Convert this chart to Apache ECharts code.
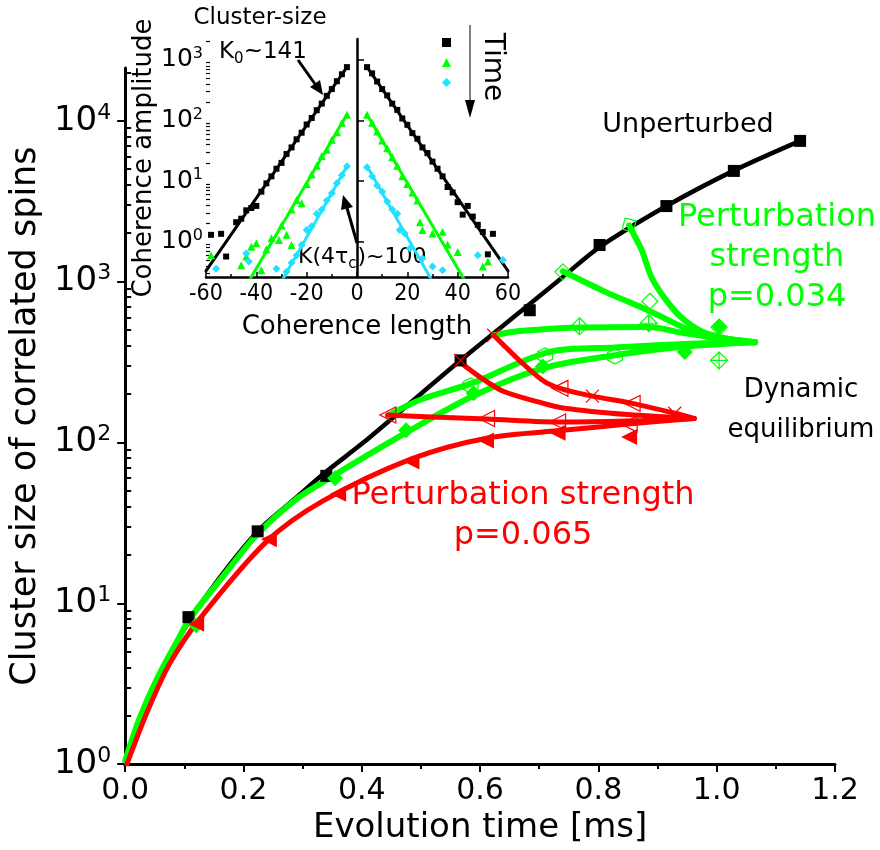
<!DOCTYPE html>
<html><head><meta charset="utf-8">
<script src="https://cdn.jsdelivr.net/npm/echarts@6/dist/echarts.min.js"></script>
<style>html,body{margin:0;padding:0;background:#fff}#c{width:880px;height:850px}</style>
</head><body><div id="c"></div>
<script>
// ---------------- Main chart data: [evolution time (ms), cluster size] ----------------
const xTicksMain = [0, 0.2, 0.4, 0.6, 0.8, 1.0, 1.2];
const yTicksMain = [1, 10, 100, 1000, 10000];

// Unperturbed (black)
const unpFit = [[0,1],[0.025,1.9],[0.054,3.4],[0.09,6.0],[0.14,11.5],[0.224,28],[0.288,45],[0.338,65],[0.40,98],[0.455,145],[0.567,324],[0.684,725],[0.74,1070],[0.802,1640],[0.915,2950],[1.029,4900],[1.141,7500]];
const unpPts = [[0.107,8.2],[0.224,28],[0.34,62],[0.567,324],[0.684,664],[0.802,1690],[0.915,2950],[1.029,4880],[1.141,7500]];

// p = 0.034 (green)
const gaFit = [[0,1.05],[0.025,1.95],[0.054,3.4],[0.09,6.0],[0.109,8.0],[0.166,14.8],[0.221,26.3],[0.288,44],[0.355,63],[0.475,115],[0.589,195],[0.706,289],[0.82,345],[0.946,395],[1.065,420]];
const gaPts = [[0.12,7.3],[0.355,60],[0.475,119],[0.589,202],[0.706,297],[0.946,365],[1.004,528]];
const gbFit = [[0.444,147],[0.50,185],[0.584,232],[0.723,370],[0.828,390],[0.946,410],[1.065,420]];
const gbPts = [[0.584,226],[0.71,348],[0.828,343]];
const gcFit = [[0.623,464],[0.66,490],[0.706,505],[0.768,518],[0.885,522],[0.946,478],[1.065,420]];
const gcPts = [[0.768,528],[0.885,551],[1.004,324]];
const gdFit = [[0.74,1160],[0.81,870],[0.887,655],[0.974,464],[1.02,435],[1.065,420]];
const gdPts = [[0.74,1150],[0.887,755],[1.004,520]];
const geFit = [[0.852,2240],[0.862,1900],[0.874,1550],[0.89,1060],[0.912,790],[0.94,600],[0.974,492],[1.02,440],[1.065,420]];
const gePts = [[0.852,2250]];

// p = 0.065 (red)
const raFit = [[0.003,1],[0.037,2.1],[0.075,4.2],[0.126,8.0],[0.238,24],[0.333,43],[0.484,79],[0.615,107],[0.74,119],[0.85,130],[0.962,141]];
const raPts = [[0.12,7.45],[0.243,25],[0.36,48],[0.484,76],[0.61,103],[0.731,115],[0.852,108]];
const rbFit = [[0.444,148],[0.52,144],[0.611,140],[0.74,134],[0.85,136],[0.962,141]];
const rbPts = [[0.444,148],[0.611,141],[0.731,134],[0.852,130]];
const rcFit = [[0.564,320],[0.60,255],[0.639,208],[0.70,178],[0.74,164],[0.85,149],[0.962,141]];
const rcPts = [[0.567,324]];
const rdFit = [[0.623,464],[0.668,320],[0.706,243],[0.735,217],[0.79,194],[0.857,175],[0.929,152],[0.962,141]];
const rdXPts = [[0.623,464],[0.79,194],[0.929,152]];
const rdTriPts = [[0.735,217],[0.857,175]];

// ---------------- Inset data: [coherence length, coherence amplitude] ----------------
const xTicksInset = [-60, -40, -20, 0, 20, 40, 60];
const yTicksInset = [1, 10, 100, 1000];
const blackL = [[-58,1.3],[-54,1.35],[-52,0.57],[-48,2.1],[-46,2.4],[-44,3.3],[-42,3.6],[-40,3.9],[-38,6.7],[-36,9.2],[-34,12],[-32,16],[-30,20],[-28,28],[-26,36],[-24,49],[-22,63],[-20,86],[-18,110],[-16,148],[-14,190],[-12,255],[-10,330],[-8,445],[-6,580],[-4,760]];
const blackR = [[4,760],[6,600],[8,440],[10,330],[12,260],[14,190],[16,150],[18,108],[20,85],[22,62],[24,50],[26,36],[28,29],[30,21],[32,16],[34,12],[36,8.0],[38,6.5],[40,4.5],[42,2.8],[44,3.9],[46,2.6],[48,1.9],[50,1.45],[52,0.62],[54,1.35]];
const greenL = [[-58,0.6],[-46,0.41],[-44,0.57],[-42,0.83],[-40,0.94],[-38,0.34],[-36,0.75],[-34,1.14],[-31,1.07],[-30,1.85],[-28,1.3],[-26,0.88],[-26,3.4],[-24,4.9],[-22,4.3],[-20,9.0],[-18,13],[-16,18],[-14,26],[-12,33],[-10,48],[-8,64],[-6,92],[-4,125]];
const greenR = [[4,125],[6,92],[8,66],[10,47],[12,35],[14,25],[16,18],[18,12],[20,9],[22,6.5],[24,4.8],[25,2.1],[26,1.56],[30,1.37],[34,1.46],[36,0.9],[40,0.68],[50,0.39],[52,0.47]];
const cyanL = [[-56,0.36],[-44,0.64],[-43,0.47],[-32,0.36],[-28,0.32],[-26,0.45],[-24,0.6],[-22,0.88],[-20,1.56],[-18,1.8],[-16,2.9],[-14,3.4],[-12,4.8],[-10,6.3],[-8,9.2],[-6,12.5],[-4,17.6]];
const cyanR = [[4,17],[6,12],[8,8.5],[10,6.7],[12,4.6],[14,3.4],[16,2.9],[17,1.56],[19,1.37],[21,0.78],[26,0.53],[30,0.39],[34,0.34],[48,0.6],[58,0.5]];
const blackFitL = [[-60,0.33],[-4,760]], blackFitR = [[4,760],[60,0.33]];
const greenFitL = [[-44,0.19],[-4,125]], greenFitR = [[4,125],[44,0.19]];
const cyanFitL = [[-30,0.22],[-4,17.6]], cyanFitR = [[4,17.6],[30,0.22]];

// ---------------- styling ----------------
const BLK = '#000000', GRN = '#00ff00', RED = '#ff0000', CYN = '#22e0ff';
const F = 'DejaVu Sans';
const FC = 'DejaVu Sans Condensed';

function minorLog(lo, hi) {
  const out = [];
  for (let d = -1; d <= 4; d++) {
    for (let k = 2; k <= 9; k++) {
      const v = k * Math.pow(10, d);
      if (v >= lo && v <= hi) out.push(+v.toPrecision(3));
    }
  }
  return out;
}
const MAIN_YMAX = 21300, INS_YMIN = 0.262, INS_YMAX = 2213;

function lineS(data, color, width, xi, yi, smooth) {
  return { type: 'line', data, xAxisIndex: xi, yAxisIndex: yi, smooth: smooth === undefined ? 0.3 : smooth,
    showSymbol: false, symbol: 'none', silent: true, animation: false,
    lineStyle: { color, width, cap: 'round', join: 'round' }, z: 2 };
}
function scatS(name, data, symbol, size, style, rotate, xi, yi) {
  return { type: 'scatter', name, data, xAxisIndex: xi, yAxisIndex: yi, symbol, symbolSize: size,
    symbolRotate: rotate || 0, itemStyle: Object.assign({ opacity: 1 }, style), silent: true, animation: false, z: 3 };
}
const HEX = 'path://M0,-10L8.66,-5L8.66,5L0,10L-8.66,5L-8.66,-5Z';
const DCROSS = 'path://M0,-10L10,0L0,10L-10,0Z M0,-10L0,10 M-10,0L10,0';
const XMARK = 'path://M0,0L20,20M20,0L0,20';
const open = c => ({ color: 'rgba(0,0,0,0)', borderColor: c, borderWidth: 1.2 });
const fill = c => ({ color: c });

function supFmt(v) {
  const e = Math.round(Math.log10(v));
  return '{b|10}{s|' + e + '}';
}

const chart = echarts.init(document.getElementById('c'), null, { renderer: 'canvas' });

const option = {
  backgroundColor: '#ffffff',
  animation: false,
  grid: [
    { left: 118, top: 68, width: 717, height: 697 },
    { left: 206, top: 39, width: 302, height: 238 }
  ],
  legend: {
    data: ['insBlack', 'insGreen', 'insCyan'],
    orient: 'vertical', left: 437, top: 33, itemGap: 11, itemWidth: 9, itemHeight: 9,
    formatter: () => '', textStyle: { fontSize: 2 }, selectedMode: false,
    itemStyle: { opacity: 1 }
  },
  xAxis: [
    { type: 'value', gridIndex: 0, min: 0, max: 1.2, interval: 0.2,
      axisLine: { onZero: false, lineStyle: { color: BLK, width: 3 } },
      axisTick: { length: 8, lineStyle: { color: BLK, width: 2 } },
      minorTick: { show: true, splitNumber: 2, length: 5, lineStyle: { color: BLK, width: 2 } },
      splitLine: { show: false },
      axisLabel: { fontSize: 30, fontFamily: F, color: BLK, margin: 12, formatter: v => v.toFixed(1) },
      name: 'Evolution time [ms]', nameLocation: 'middle', nameGap: 63,
      nameTextStyle: { fontSize: 34, fontFamily: F, color: BLK, verticalAlign: 'middle' } },
    { type: 'value', gridIndex: 1, min: -60, max: 60, interval: 20,
      axisLine: { onZero: false, lineStyle: { color: BLK, width: 2.5 } },
      axisTick: { inside: true, length: 5, lineStyle: { color: BLK, width: 1.5 } },
      minorTick: { show: true, splitNumber: 2, length: 3, lineStyle: { color: BLK, width: 1.5 } },
      splitLine: { show: false },
      axisLabel: { fontSize: 23, fontFamily: FC, color: BLK, margin: 6 },
      name: 'Coherence length', nameLocation: 'middle', nameGap: 50,
      nameTextStyle: { fontSize: 26, fontFamily: F, color: BLK, verticalAlign: 'middle' } }
  ],
  yAxis: [
    { type: 'log', logBase: 10, gridIndex: 0, min: 1, max: MAIN_YMAX, position: 'left',
      axisLine: { show: true, lineStyle: { color: BLK, width: 3 } },
      axisTick: { show: true, length: 8, customValues: yTicksMain, lineStyle: { color: BLK, width: 2 } },
      splitLine: { show: false },
      axisLabel: { customValues: yTicksMain, formatter: supFmt, margin: 14,
        rich: { b: { fontSize: 34, fontFamily: F, color: BLK },
                s: { fontSize: 22, fontFamily: F, color: BLK, padding: [0, 0, 16, 0] } } },
      name: 'Cluster size of correlated spins', nameLocation: 'middle', nameGap: 82, nameRotate: 90,
      nameTextStyle: { fontSize: 35, fontFamily: F, color: BLK, verticalAlign: 'middle' } },
    { type: 'log', logBase: 10, gridIndex: 0, min: 1, max: MAIN_YMAX, position: 'left', offset: 0,
      axisLine: { show: false },
      axisTick: { show: true, inside: true, length: 6, customValues: minorLog(1, MAIN_YMAX), lineStyle: { color: BLK, width: 2 } },
      axisLabel: { show: false }, splitLine: { show: false } },
    { type: 'log', logBase: 10, gridIndex: 1, min: INS_YMIN, max: INS_YMAX, position: 'left',
      axisLine: { show: true, lineStyle: { color: BLK, width: 2.5 } },
      axisTick: { show: true, inside: true, length: 7, customValues: yTicksInset, lineStyle: { color: BLK, width: 1.5 } },
      splitLine: { show: false },
      axisLabel: { customValues: yTicksInset, formatter: supFmt, margin: 3,
        rich: { b: { fontSize: 25, fontFamily: F, color: BLK },
                s: { fontSize: 16, fontFamily: F, color: BLK, padding: [0, 0, 12, 0] } } },
      name: 'Coherence amplitude', nameLocation: 'middle', nameGap: 56, nameRotate: 90,
      nameTextStyle: { fontSize: 26, fontFamily: F, color: BLK, verticalAlign: 'middle' } },
    { type: 'log', logBase: 10, gridIndex: 1, min: INS_YMIN, max: INS_YMAX, position: 'left', offset: 0,
      axisLine: { show: false },
      axisTick: { show: true, inside: true, length: 4, customValues: minorLog(INS_YMIN, INS_YMAX), lineStyle: { color: BLK, width: 1.2 } },
      axisLabel: { show: false }, splitLine: { show: false } }
  ],
  series: [
    // main: unperturbed
    lineS(unpFit, BLK, 4.5, 0, 0),
    scatS('unp', unpPts, 'rect', 12, fill(BLK), 0, 0, 0),
    // main: green p=0.034
    lineS(gaFit, GRN, 6, 0, 0),
    lineS(gbFit, GRN, 6, 0, 0),
    lineS(gcFit, GRN, 6, 0, 0),
    lineS(gdFit, GRN, 6, 0, 0),
    lineS(geFit, GRN, 6, 0, 0),
    scatS('ga', gaPts, 'diamond', 16, fill(GRN), 0, 0, 0),
    scatS('gb', gbPts, HEX, 15, open(GRN), 0, 0, 0),
    scatS('gc', gcPts, DCROSS, 17, open(GRN), 0, 0, 0),
    scatS('gd', gdPts, 'diamond', 16, open(GRN), 0, 0, 0),
    scatS('ge', gePts, 'diamond', 16, open(GRN), 30, 0, 0),
    // main: red p=0.065
    lineS(raFit, RED, 5, 0, 0),
    lineS(rbFit, RED, 5, 0, 0),
    lineS(rcFit, RED, 5, 0, 0),
    lineS(rdFit, RED, 5, 0, 0),
    scatS('ra', raPts, 'triangle', 16, fill(RED), 90, 0, 0),
    scatS('rb', rbPts, 'triangle', 16, open(RED), 90, 0, 0),
    scatS('rc', rcPts, XMARK, 13, open(RED), 0, 0, 0),
    scatS('rdx', rdXPts, XMARK, 13, open(RED), 0, 0, 0),
    scatS('rdt', rdTriPts, 'triangle', 16, open(RED), 90, 0, 0),
    // inset fits
    lineS(blackFitL, BLK, 3, 1, 2, false), lineS(blackFitR, BLK, 3, 1, 2, false),
    lineS(greenFitL, GRN, 3, 1, 2, false), lineS(greenFitR, GRN, 3, 1, 2, false),
    lineS(cyanFitL, CYN, 3, 1, 2, false), lineS(cyanFitR, CYN, 3, 1, 2, false),
    // inset points
    scatS('insBlack', blackL.concat(blackR), 'rect', 6, fill(BLK), 0, 1, 2),
    scatS('insGreen', greenL.concat(greenR), 'triangle', 8, fill(GRN), 0, 1, 2),
    scatS('insCyan', cyanL.concat(cyanR), 'diamond', 8, fill(CYN), 0, 1, 2)
  ],
  graphic: [
    { type: 'text', silent: true, style: { text: 'Unperturbed', x: 688, y: 125, fill: BLK, font: '27px "DejaVu Sans"', textAlign: 'center', textVerticalAlign: 'middle', align: 'center', verticalAlign: 'middle' } },
    { type: 'text', silent: true, style: { text: 'Perturbation\nstrength\np=0.034', x: 777, y: 258, fill: GRN, font: '32px "DejaVu Sans"', lineHeight: 40, textAlign: 'center', textVerticalAlign: 'middle', align: 'center', verticalAlign: 'middle' } },
    { type: 'text', silent: true, style: { text: 'Dynamic\nequilibrium', x: 801, y: 410, fill: BLK, font: '26px "DejaVu Sans"', lineHeight: 40, textAlign: 'center', textVerticalAlign: 'middle', align: 'center', verticalAlign: 'middle' } },
    { type: 'text', silent: true, style: { text: 'Perturbation strength\np=0.065', x: 523, y: 516, fill: RED, font: '32px "DejaVu Sans"', lineHeight: 40, textAlign: 'center', textVerticalAlign: 'middle', align: 'center', verticalAlign: 'middle' } },
    { type: 'text', silent: true, style: { text: 'Cluster-size', x: 260, y: 18, fill: BLK, font: '23px "DejaVu Sans"', textAlign: 'center', textVerticalAlign: 'middle', align: 'center', verticalAlign: 'middle' } },
    { type: 'text', silent: true, style: { text: 'K{sub|0}~141', x: 219, y: 52, fill: BLK, font: '23px "DejaVu Sans"', textAlign: 'left', textVerticalAlign: 'middle', align: 'left', verticalAlign: 'middle',
      rich: { sub: { fontSize: 15, fontFamily: F, fill: BLK, color: BLK, padding: [14, 0, 0, 0] } } } },
    { type: 'text', silent: true, style: { text: 'K(4τ{sub|c}{n|)~100}', x: 298, y: 257, fill: BLK, font: '22px "DejaVu Sans"', textAlign: 'left', textVerticalAlign: 'middle', align: 'left', verticalAlign: 'middle',
      rich: { sub: { fontSize: 15, fontFamily: F, fill: BLK, color: BLK, padding: [14, 1, 0, 0] },
              n: { fontSize: 22, fontFamily: F, fill: BLK, color: BLK } } } },
    { type: 'text', silent: true, x: 492, y: 67, rotation: -Math.PI / 2, style: { text: 'Time', x: 0, y: 0, fill: BLK, font: '28px "DejaVu Sans"', textAlign: 'center', textVerticalAlign: 'middle', align: 'center', verticalAlign: 'middle' } },
    // arrows
    { type: 'line', silent: true, shape: { x1: 298, y1: 60, x2: 315, y2: 84 }, style: { stroke: BLK, lineWidth: 3 } },
    { type: 'polygon', silent: true, shape: { points: [[323, 95], [310, 87], [320, 80]] }, style: { fill: BLK } },
    { type: 'line', silent: true, shape: { x1: 357, y1: 243, x2: 347, y2: 208 }, style: { stroke: BLK, lineWidth: 3 } },
    { type: 'polygon', silent: true, shape: { points: [[343, 195], [353, 207], [341, 210]] }, style: { fill: BLK } },
    { type: 'line', silent: true, shape: { x1: 470, y1: 25, x2: 470, y2: 103 }, style: { stroke: '#555555', lineWidth: 1.5 } },
    { type: 'polygon', silent: true, shape: { points: [[465, 100], [475, 100], [470, 118]] }, style: { fill: BLK } }
  ]
};
chart.setOption(option);
</script></body></html>
